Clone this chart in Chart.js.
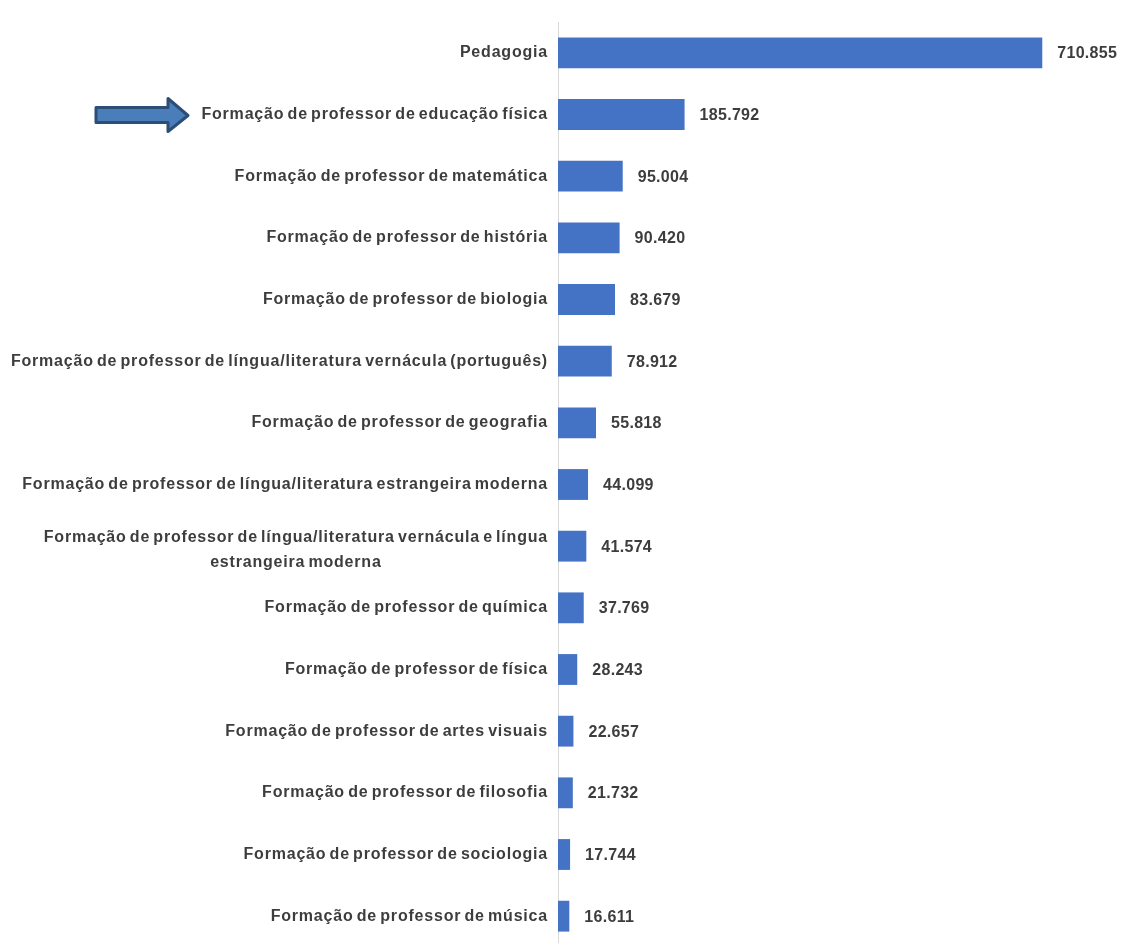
<!DOCTYPE html>
<html lang="pt-BR">
<head>
<meta charset="utf-8">
<title>Matrículas - formação de professores</title>
<script src="https://cdn.jsdelivr.net/npm/chart.js@4.4.1/dist/chart.umd.min.js"></script>
<style>
    html, body { margin: 0; padding: 0; background: #ffffff; overflow: hidden; }
    #wrap { width: 1123px; height: 948px; }
</style>
</head>
<body>
<div id="wrap"><canvas id="chart" width="1123" height="948"></canvas></div>
<script>
// ==============================
// DADOS
// ==============================
const cursos = [
    "Pedagogia",
    "Formação de professor de educação física",
    "Formação de professor de matemática",
    "Formação de professor de história",
    "Formação de professor de biologia",
    "Formação de professor de língua/literatura vernácula (português)",
    "Formação de professor de geografia",
    "Formação de professor de língua/literatura estrangeira moderna",
    ["Formação de professor de língua/literatura vernácula e língua", "estrangeira moderna"],
    "Formação de professor de química",
    "Formação de professor de física",
    "Formação de professor de artes visuais",
    "Formação de professor de filosofia",
    "Formação de professor de sociologia",
    "Formação de professor de música"
];
const matriculas = [710855, 185792, 95004, 90420, 83679, 78912, 55818, 44099, 41574, 37769, 28243, 22657, 21732, 17744, 16611];
const destaque = 1; // categoria marcada com a seta

const FONT = "bold 16px 'Liberation Sans', Arial, sans-serif";
const TEXT_COLOR = "#3d3d3d";

function formatBR(n) {
    return n.toString().replace(/\B(?=(\d{3})+(?!\d))/g, ".");
}

// ==============================
// PLUGINS
// ==============================
const categoryLabels = {
    id: "categoryLabels",
    afterDraw(chart) {
        const ctx = chart.ctx;
        const y = chart.scales.y;
        const right = chart.chartArea.left - 10;
        ctx.save();
        ctx.font = FONT;
        ctx.letterSpacing = "0.8px";
        ctx.wordSpacing = "-2px";
        ctx.fillStyle = TEXT_COLOR;
        ctx.textAlign = "center";
        ctx.textBaseline = "middle";
        cursos.forEach((lab, i) => {
            const lines = Array.isArray(lab) ? lab : [lab];
            const w = Math.max(...lines.map(l => ctx.measureText(l).width));
            const lh = 25;
            const shift = lines.length > 1 ? 4 : 0;
            const cy = y.getPixelForValue(i) + shift;
            lines.forEach((l, k) => {
                ctx.fillText(l, right - w / 2, cy + (k - (lines.length - 1) / 2) * lh);
            });
        });
        ctx.restore();
    }
};

const valueLabels = {
    id: "valueLabels",
    afterDatasetsDraw(chart) {
        const ctx = chart.ctx;
        const meta = chart.getDatasetMeta(0);
        ctx.save();
        ctx.font = FONT;
        ctx.letterSpacing = "0.3px";
        ctx.fillStyle = TEXT_COLOR;
        ctx.textAlign = "left";
        ctx.textBaseline = "middle";
        meta.data.forEach((bar, i) => {
            ctx.fillText(formatBR(matriculas[i]), bar.x + 15, bar.y + 1);
        });
        ctx.restore();
    }
};

const arrowMark = {
    id: "arrowMark",
    afterDraw(chart) {
        const ctx = chart.ctx;
        const cy = chart.scales.y.getPixelForValue(destaque);
        const x0 = 96, x1 = 168, tip = 188;
        ctx.save();
        ctx.beginPath();
        ctx.moveTo(x0, cy - 7);
        ctx.lineTo(x1, cy - 7);
        ctx.lineTo(x1, cy - 16);
        ctx.lineTo(tip, cy + 1);
        ctx.lineTo(x1, cy + 17);
        ctx.lineTo(x1, cy + 8);
        ctx.lineTo(x0, cy + 8);
        ctx.closePath();
        ctx.fillStyle = "#4a7ebb";
        ctx.fill();
        ctx.lineWidth = 3;
        ctx.lineJoin = "round";
        ctx.strokeStyle = "#2c4d75";
        ctx.stroke();
        ctx.restore();
    }
};

// ==============================
// GRÁFICO
// ==============================
new Chart(document.getElementById("chart"), {
    type: "bar",
    data: {
        labels: cursos,
        datasets: [{
            data: matriculas,
            backgroundColor: "#4472c4",
            borderWidth: 0,
            categoryPercentage: 1,
            barPercentage: 0.5
        }]
    },
    options: {
        indexAxis: "y",
        responsive: false,
        animation: false,
        devicePixelRatio: 1,
        layout: { padding: { top: 22, right: 20, bottom: 1, left: 0 } },
        plugins: { legend: { display: false }, tooltip: { enabled: false } },
        scales: {
            x: { display: false, min: 0, max: 800000 },
            y: {
                grid: { display: false, drawTicks: false },
                border: { display: true, color: "#d9d9d9", width: 1 },
                ticks: { display: false },
                afterFit(scale) { scale.width = 558; }
            }
        }
    },
    plugins: [categoryLabels, valueLabels, arrowMark]
});
</script>
</body>
</html>
